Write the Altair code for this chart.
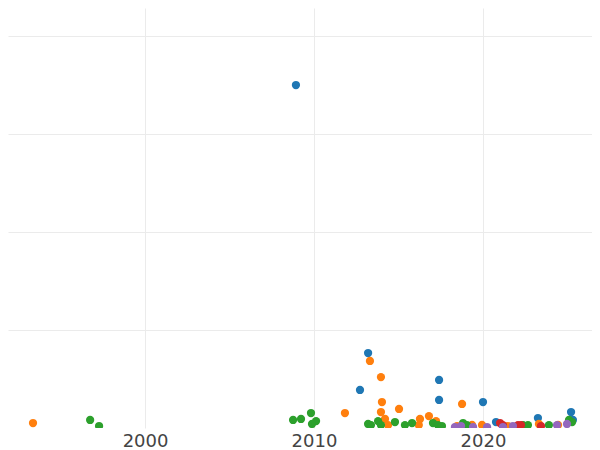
import pandas as pd
import altair as alt

# Series (year, value)
blue_year = [2008.93, 2013.20, 2012.72, 2017.40, 2017.40, 2020.00, 2020.77, 2023.25, 2025.21, 2025.32]
blue_val = [350, 76.5, 38.8, 49, 28.6, 26.5, 6.1, 10.2, 16.3, 8.2]

orange_year = [1993.37, 2011.83, 2013.31, 2013.96, 2014.02, 2013.96, 2014.20, 2015.03, 2016.27,
               2016.80, 2017.22, 2018.76, 2018.46, 2019.35, 2019.94, 2021.48, 2023.31, 2024.44,
               2014.38, 2016.20]
orange_val = [5.1, 15.3, 68.4, 52, 26.5, 16.3, 9.2, 19.4, 9.2,
              12.2, 7.1, 24.5, 2, 3.1, 3.1, 2, 4.1, 3.1,
              3, 3]

green_year = [1996.75, 1997.28, 2008.76, 2009.23, 2009.82, 2010.12, 2009.88, 2013.20, 2013.37,
              2013.79, 2013.96, 2014.79, 2015.38, 2015.80, 2017.04, 2017.34, 2017.57, 2018.82,
              2019.05, 2022.37, 2022.66, 2023.90, 2025.09, 2025.27]
green_val = [8.2, 2, 8.2, 9.2, 15.3, 7.1, 4.1, 4.1, 3,
             7.1, 3, 6.1, 3, 5.1, 5.1, 3, 2, 5.1,
             3, 3, 3, 3, 8.2, 6.1]

red_year = [2021.01, 2021.18, 2022.07, 2022.25, 2023.43]
red_val = [5.1, 3, 3, 3, 2]

purple_year = [2018.34, 2018.70, 2019.41, 2020.24, 2021.18, 2021.77, 2024.38, 2024.97]
purple_val = [1, 2, 1, 1, 1, 2, 3, 4.1]

series = ["A", "B", "C", "D", "E"]
colors = ["#1f77b4", "#ff7f0e", "#2ca02c", "#d62728", "#9467bd"]

x_ticks = [2000, 2010, 2020]
y_ticks = [100, 200, 300, 400]

frames = []
for name, yrs, vals in zip(series,
                           [blue_year, orange_year, green_year, red_year, purple_year],
                           [blue_val, orange_val, green_val, red_val, purple_val]):
    frames.append(pd.DataFrame({"year": yrs, "value": vals, "series": name}))
df = pd.concat(frames, ignore_index=True)
df["order"] = df["series"].map({s: i for i, s in enumerate(series)})

points = alt.Chart(df).mark_circle(size=68, opacity=1, clip=True).encode(
    x=alt.X("year:Q", title=None,
            scale=alt.Scale(domain=[1991.89, 2026.45], nice=False, zero=False),
            axis=alt.Axis(values=x_ticks, format="d", domain=False, ticks=False,
                          labelFontSize=18, labelColor="#444", labelFont="DejaVu Sans",
                          labelPadding=4, gridColor="#ebebeb", gridWidth=1)),
    y=alt.Y("value:Q", title=None,
            scale=alt.Scale(domain=[0, 428.6], nice=False),
            axis=alt.Axis(values=y_ticks, labels=False, domain=False, ticks=False,
                          gridColor="#ebebeb", gridWidth=1)),
    color=alt.Color("series:N", scale=alt.Scale(domain=series, range=colors), legend=None),
    order=alt.Order("order:Q")
)

chart = points.properties(
    width=584,
    height=420,
    padding={"left": 0, "top": 0, "right": 0, "bottom": 22},
    autosize=alt.AutoSizeParams(type="none")
).configure_view(stroke=None)

chart.save("out.html", embed_options={"renderer": "svg", "actions": False})
